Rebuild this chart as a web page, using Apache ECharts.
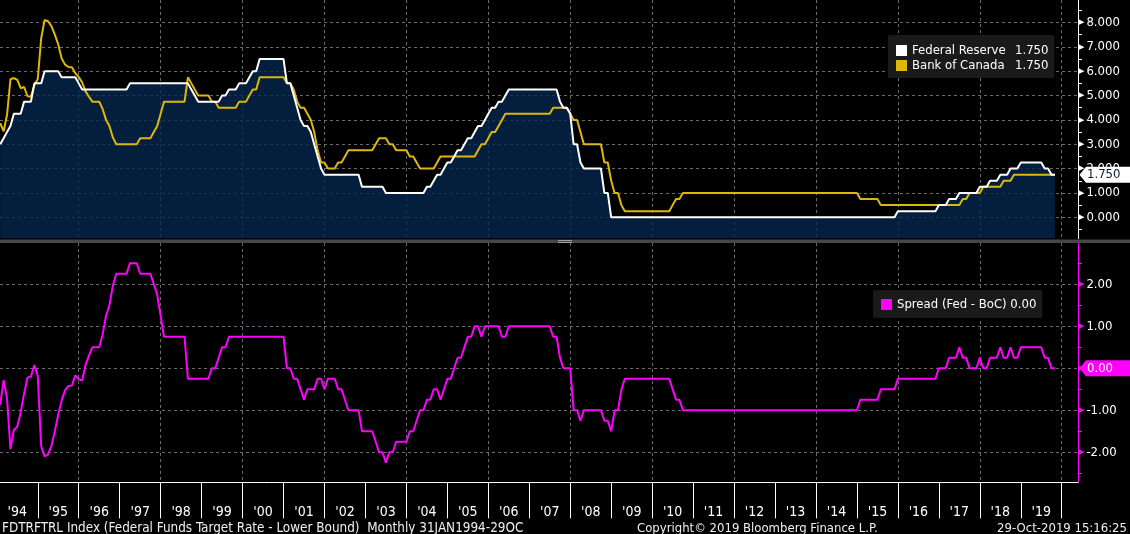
<!DOCTYPE html>
<html>
<head>
<meta charset="utf-8">
<script src="https://cdn.jsdelivr.net/npm/echarts@6/dist/echarts.min.js"></script>
<style>
html,body{margin:0;padding:0;background:#000;}
#c{width:1130px;height:534px;}
</style>
</head>
<body>
<div id="c"></div>
<script>
// ---------------- data (monthly, month-end, Jan 1994 - Oct 2019) ----------------
const startYear = 1994;
const fedFunds = [
  3.00,3.25,3.50,3.75,4.25,4.25,4.25,4.75,4.75,4.75,5.50,5.50, // 1994
  5.50,6.00,6.00,6.00,6.00,6.00,5.75,5.75,5.75,5.75,5.75,5.50, // 1995
  5.25,5.25,5.25,5.25,5.25,5.25,5.25,5.25,5.25,5.25,5.25,5.25, // 1996
  5.25,5.25,5.50,5.50,5.50,5.50,5.50,5.50,5.50,5.50,5.50,5.50, // 1997
  5.50,5.50,5.50,5.50,5.50,5.50,5.50,5.50,5.25,5.00,4.75,4.75, // 1998
  4.75,4.75,4.75,4.75,4.75,5.00,5.00,5.25,5.25,5.25,5.50,5.50, // 1999
  5.50,5.75,6.00,6.00,6.50,6.50,6.50,6.50,6.50,6.50,6.50,6.50, // 2000
  5.50,5.50,5.00,4.50,4.00,3.75,3.75,3.50,3.00,2.50,2.00,1.75, // 2001
  1.75,1.75,1.75,1.75,1.75,1.75,1.75,1.75,1.75,1.75,1.25,1.25, // 2002
  1.25,1.25,1.25,1.25,1.25,1.00,1.00,1.00,1.00,1.00,1.00,1.00, // 2003
  1.00,1.00,1.00,1.00,1.00,1.25,1.25,1.50,1.75,1.75,2.00,2.25, // 2004
  2.25,2.50,2.75,2.75,3.00,3.25,3.25,3.50,3.75,3.75,4.00,4.25, // 2005
  4.50,4.50,4.75,4.75,5.00,5.25,5.25,5.25,5.25,5.25,5.25,5.25, // 2006
  5.25,5.25,5.25,5.25,5.25,5.25,5.25,5.25,4.75,4.50,4.50,4.25, // 2007
  3.00,3.00,2.25,2.00,2.00,2.00,2.00,2.00,2.00,1.00,1.00,0.00, // 2008
  0,0,0,0,0,0,0,0,0,0,0,0, // 2009
  0,0,0,0,0,0,0,0,0,0,0,0, // 2010
  0,0,0,0,0,0,0,0,0,0,0,0, // 2011
  0,0,0,0,0,0,0,0,0,0,0,0, // 2012
  0,0,0,0,0,0,0,0,0,0,0,0, // 2013
  0,0,0,0,0,0,0,0,0,0,0,0, // 2014
  0,0,0,0,0,0,0,0,0,0,0,0.25, // 2015
  0.25,0.25,0.25,0.25,0.25,0.25,0.25,0.25,0.25,0.25,0.25,0.50, // 2016
  0.50,0.50,0.75,0.75,0.75,1.00,1.00,1.00,1.00,1.00,1.00,1.25, // 2017
  1.25,1.25,1.50,1.50,1.50,1.75,1.75,1.75,2.00,2.00,2.00,2.25, // 2018
  2.25,2.25,2.25,2.25,2.25,2.25,2.00,2.00,1.75,1.75            // 2019
];
const bocRate = [
  3.87,3.53,4.21,5.67,5.72,5.64,5.30,5.35,4.97,4.95,5.42,5.68, // 1994
  7.35,8.10,8.05,7.85,7.50,7.10,6.52,6.27,6.17,6.16,5.92,5.76, // 1995
  5.54,5.17,4.95,4.75,4.75,4.75,4.45,4.00,3.75,3.28,3.00,3.00, // 1996
  3.00,3.00,3.00,3.00,3.00,3.25,3.25,3.25,3.25,3.50,3.75,4.25, // 1997
  4.75,4.75,4.75,4.75,4.75,4.75,4.75,5.75,5.50,5.25,5.00,5.00, // 1998
  5.00,5.00,4.75,4.75,4.50,4.50,4.50,4.50,4.50,4.50,4.75,4.75, // 1999
  4.75,5.00,5.25,5.25,5.75,5.75,5.75,5.75,5.75,5.75,5.75,5.75, // 2000
  5.50,5.50,5.25,4.75,4.50,4.50,4.25,4.00,3.50,2.75,2.25,2.25, // 2001
  2.00,2.00,2.00,2.25,2.25,2.50,2.75,2.75,2.75,2.75,2.75,2.75, // 2002
  2.75,2.75,3.00,3.25,3.25,3.25,3.00,3.00,2.75,2.75,2.75,2.75, // 2003
  2.50,2.50,2.25,2.00,2.00,2.00,2.00,2.00,2.25,2.50,2.50,2.50, // 2004
  2.50,2.50,2.50,2.50,2.50,2.50,2.50,2.50,2.75,3.00,3.00,3.25, // 2005
  3.50,3.50,3.75,4.00,4.25,4.25,4.25,4.25,4.25,4.25,4.25,4.25, // 2006
  4.25,4.25,4.25,4.25,4.25,4.25,4.50,4.50,4.50,4.50,4.50,4.25, // 2007
  4.00,4.00,3.50,3.00,3.00,3.00,3.00,3.00,3.00,2.25,2.25,1.50, // 2008
  1.00,1.00,0.50,0.25,0.25,0.25,0.25,0.25,0.25,0.25,0.25,0.25, // 2009
  0.25,0.25,0.25,0.25,0.25,0.50,0.75,0.75,1.00,1.00,1.00,1.00, // 2010
  1,1,1,1,1,1,1,1,1,1,1,1, // 2011
  1,1,1,1,1,1,1,1,1,1,1,1, // 2012
  1,1,1,1,1,1,1,1,1,1,1,1, // 2013
  1,1,1,1,1,1,1,1,1,1,1,1, // 2014
  0.75,0.75,0.75,0.75,0.75,0.75,0.50,0.50,0.50,0.50,0.50,0.50, // 2015
  0.50,0.50,0.50,0.50,0.50,0.50,0.50,0.50,0.50,0.50,0.50,0.50, // 2016
  0.50,0.50,0.50,0.50,0.50,0.50,0.75,0.75,1.00,1.00,1.00,1.00, // 2017
  1.25,1.25,1.25,1.25,1.25,1.25,1.50,1.50,1.50,1.75,1.75,1.75, // 2018
  1.75,1.75,1.75,1.75,1.75,1.75,1.75,1.75,1.75,1.75            // 2019
];
const spread = [
  -0.87,-0.28,-0.71,-1.92,-1.47,-1.39,-1.05,-0.60,-0.22,-0.20,0.08,-0.18, // 1994
  -1.85,-2.10,-2.05,-1.85,-1.50,-1.10,-0.77,-0.52,-0.42,-0.41,-0.17,-0.26, // 1995
  -0.29,0.08,0.30,0.50,0.50,0.50,0.80,1.25,1.50,1.97,2.25,2.25, // 1996
  2.25,2.25,2.50,2.50,2.50,2.25,2.25,2.25,2.25,2.00,1.75,1.25, // 1997
  0.75,0.75,0.75,0.75,0.75,0.75,0.75,-0.25,-0.25,-0.25,-0.25,-0.25, // 1998
  -0.25,-0.25,0.00,0.00,0.25,0.50,0.50,0.75,0.75,0.75,0.75,0.75, // 1999
  0.75,0.75,0.75,0.75,0.75,0.75,0.75,0.75,0.75,0.75,0.75,0.75, // 2000
  0.00,0.00,-0.25,-0.25,-0.50,-0.75,-0.50,-0.50,-0.50,-0.25,-0.25,-0.50, // 2001
  -0.25,-0.25,-0.25,-0.50,-0.50,-0.75,-1.00,-1.00,-1.00,-1.00,-1.50,-1.50, // 2002
  -1.50,-1.50,-1.75,-2.00,-2.00,-2.25,-2.00,-2.00,-1.75,-1.75,-1.75,-1.75, // 2003
  -1.50,-1.50,-1.25,-1.00,-1.00,-0.75,-0.75,-0.50,-0.50,-0.75,-0.50,-0.25, // 2004
  -0.25,0.00,0.25,0.25,0.50,0.75,0.75,1.00,1.00,0.75,1.00,1.00, // 2005
  1.00,1.00,1.00,0.75,0.75,1.00,1.00,1.00,1.00,1.00,1.00,1.00, // 2006
  1.00,1.00,1.00,1.00,1.00,1.00,0.75,0.75,0.25,0.00,0.00,0.00, // 2007
  -1.00,-1.00,-1.25,-1.00,-1.00,-1.00,-1.00,-1.00,-1.00,-1.25,-1.25,-1.50, // 2008
  -1.00,-1.00,-0.50,-0.25,-0.25,-0.25,-0.25,-0.25,-0.25,-0.25,-0.25,-0.25, // 2009
  -0.25,-0.25,-0.25,-0.25,-0.25,-0.50,-0.75,-0.75,-1.00,-1.00,-1.00,-1.00, // 2010
  -1,-1,-1,-1,-1,-1,-1,-1,-1,-1,-1,-1, // 2011
  -1,-1,-1,-1,-1,-1,-1,-1,-1,-1,-1,-1, // 2012
  -1,-1,-1,-1,-1,-1,-1,-1,-1,-1,-1,-1, // 2013
  -1,-1,-1,-1,-1,-1,-1,-1,-1,-1,-1,-1, // 2014
  -0.75,-0.75,-0.75,-0.75,-0.75,-0.75,-0.50,-0.50,-0.50,-0.50,-0.50,-0.25, // 2015
  -0.25,-0.25,-0.25,-0.25,-0.25,-0.25,-0.25,-0.25,-0.25,-0.25,-0.25,0.00, // 2016
  0.00,0.00,0.25,0.25,0.25,0.50,0.25,0.25,0.00,0.00,0.00,0.25, // 2017
  0.00,0.00,0.25,0.25,0.25,0.50,0.25,0.25,0.50,0.25,0.25,0.50, // 2018
  0.50,0.50,0.50,0.50,0.50,0.50,0.25,0.25,0.00,0.00             // 2019
];
// axis ticks / labels
const topTicks = [0,1,2,3,4,5,6,7,8];
const topMinorTicks = [-0.5,0.5,1.5,2.5,3.5,4.5,5.5,6.5,7.5,8.5];
const bottomTicks = [-2,-1,0,1,2];
const bottomMinorTicks = [-2.5,-1.5,-0.5,0.5,1.5,2.5];
const yearTicks = [1995,1996,1997,1998,1999,2000,2001,2002,2003,2004,2005,2006,2007,2008,2009,2010,2011,2012,2013,2014,2015,2016,2017,2018,2019,2020];
const yearLabels = [1994.5,1995.5,1996.5,1997.5,1998.5,1999.5,2000.5,2001.5,2002.5,2003.5,2004.5,2005.5,2006.5,2007.5,2008.5,2009.5,2010.5,2011.5,2012.5,2013.5,2014.5,2015.5,2016.5,2017.5,2018.5,2019.5];
const gridYears = [1996,1998,2000,2002,2004,2006,2008,2010,2012,2014,2016,2018,2020];
const footerLeft = 'FDTRFTRL Index (Federal Funds Target Rate - Lower Bound)  Monthly 31JAN1994-29OC';
const footerMid = 'Copyright\u00A9 2019 Bloomberg Finance L.P.';
const footerRight = '29-Oct-2019 15:16:25';

// ---------------- chart ----------------
const FONT = '"DejaVu Sans Condensed", "DejaVu Sans", sans-serif';
const WHITE = '#ffffff', GOLD = '#dfb70a', MAG = '#ff00ff', NAVY = '#05264f';
const GRIDC = '#6a6a6a';
const monthX = fedFunds.map((_, i) => startYear + (i + 1) / 12);
const pairs = arr => arr.map((v, i) => [monthX[i], v]);
const last = a => a[a.length - 1];

const X_MIN = 1994.078, X_MAX = 2020.397;
const dash = { type: [3, 3], color: GRIDC, width: 1 };

const chart = echarts.init(document.getElementById('c'), null, { renderer: 'canvas' });

const legendVals = {
  'Federal Reserve': last(fedFunds).toFixed(3),
  'Bank of Canada': last(bocRate).toFixed(3),
  'Spread (Fed - BoC)': last(spread).toFixed(2)
};

chart.setOption({
  backgroundColor: '#000',
  animation: false,
  textStyle: { fontFamily: FONT },
  grid: [
    { left: 0, right: 52, top: 0, height: 238.5 },
    { left: 0, right: 52, top: 243, height: 239.3 }
  ],
  xAxis: [
    { gridIndex: 0, type: 'value', min: X_MIN, max: X_MAX, position: 'bottom',
      axisLine: { show: false, onZero: false }, axisTick: { show: false, customValues: gridYears },
      axisLabel: { show: false }, splitLine: { show: true, lineStyle: dash } },
    { gridIndex: 1, type: 'value', min: X_MIN, max: X_MAX, position: 'bottom',
      axisLine: { show: true, onZero: false, lineStyle: { color: WHITE, width: 1 } },
      axisTick: { show: true, customValues: yearTicks, length: 36, lineStyle: { color: WHITE, width: 1 } },
      axisLabel: { show: true, customValues: yearLabels, margin: 23, color: WHITE, fontSize: 14, fontFamily: FONT,
        formatter: v => "'" + String(Math.floor(v)).slice(2) },
      splitLine: { show: false } },
    { gridIndex: 1, type: 'value', min: X_MIN, max: X_MAX, position: 'bottom',
      axisLine: { show: false, onZero: false }, axisTick: { show: false, customValues: gridYears },
      axisLabel: { show: false }, splitLine: { show: true, lineStyle: dash } }
  ],
  yAxis: [
    { gridIndex: 0, type: 'value', position: 'right', min: -0.871, max: 8.924,
      axisLine: { show: true, lineStyle: { color: WHITE, width: 1 } },
      axisTick: { show: true, customValues: topTicks, length: 2, lineStyle: { color: WHITE } },
      axisLabel: { show: true, customValues: topTicks, margin: 1, color: WHITE, fontSize: 13, fontFamily: FONT,
        formatter: v => '{t|\u25B6}' + v.toFixed(3),
        rich: { t: { fontSize: 7, color: WHITE, padding: [0, 2, 0, 0], fontFamily: 'DejaVu Sans' } } },
      splitLine: { show: true, lineStyle: dash } },
    { gridIndex: 0, type: 'value', position: 'right', min: -0.871, max: 8.924,
      axisLine: { show: false },
      axisTick: { show: true, customValues: topMinorTicks, length: 4, lineStyle: { color: WHITE } },
      axisLabel: { show: false }, splitLine: { show: false } },
    { gridIndex: 1, type: 'value', position: 'right', min: -2.714, max: 2.983,
      axisLine: { show: true, lineStyle: { color: MAG, width: 1 } },
      axisTick: { show: true, customValues: bottomTicks, length: 2, lineStyle: { color: MAG } },
      axisLabel: { show: true, customValues: bottomTicks, margin: 1, color: WHITE, fontSize: 13, fontFamily: FONT,
        formatter: v => '{t|\u25B6}' + v.toFixed(2),
        rich: { t: { fontSize: 7, color: MAG, padding: [0, 2, 0, 0], fontFamily: 'DejaVu Sans' } } },
      splitLine: { show: true, lineStyle: dash } },
    { gridIndex: 1, type: 'value', position: 'right', min: -2.714, max: 2.983,
      axisLine: { show: false },
      axisTick: { show: true, customValues: bottomMinorTicks, length: 4, lineStyle: { color: MAG } },
      axisLabel: { show: false }, splitLine: { show: false } }
  ],
  legend: [
    { data: ['Federal Reserve', 'Bank of Canada'], orient: 'vertical', left: 888, top: 35,
      padding: [9, 6, 6, 8], backgroundColor: '#1a1a1a', borderRadius: 2,
      itemWidth: 11, itemHeight: 11, itemGap: 2, icon: 'rect', selectedMode: false,
      itemStyle: { borderWidth: 0 },
      textStyle: { color: WHITE, fontFamily: FONT, fontSize: 13,
        rich: { n: { width: 103, color: WHITE, fontSize: 13, fontFamily: FONT, lineHeight: 15 },
                v: { color: WHITE, fontSize: 13, fontFamily: FONT, lineHeight: 15 } } },
      formatter: name => '{n|' + name + '}{v|' + legendVals[name] + '}' },
    { data: ['Spread (Fed - BoC)'], orient: 'vertical', left: 873, top: 290,
      padding: [8, 6, 7, 8], backgroundColor: '#1a1a1a', borderRadius: 2,
      itemWidth: 11, itemHeight: 11, icon: 'rect', selectedMode: false,
      itemStyle: { borderWidth: 0 },
      textStyle: { color: WHITE, fontFamily: FONT, fontSize: 13 },
      formatter: name => name + ' ' + legendVals[name] }
  ],
  series: [
    { name: 'fedArea', type: 'line', xAxisIndex: 0, yAxisIndex: 0, data: pairs(fedFunds),
      showSymbol: false, silent: true, z: 1, lineStyle: { width: 0, opacity: 0 },
      areaStyle: { color: NAVY, opacity: 0.78, origin: 'start' } },
    { name: 'Bank of Canada', type: 'line', xAxisIndex: 0, yAxisIndex: 0, data: pairs(bocRate),
      showSymbol: false, z: 3, itemStyle: { color: GOLD }, lineStyle: { color: GOLD, width: 2 } },
    { name: 'Federal Reserve', type: 'line', xAxisIndex: 0, yAxisIndex: 0, data: pairs(fedFunds),
      showSymbol: false, z: 4, itemStyle: { color: WHITE }, lineStyle: { color: WHITE, width: 2 } },
    { name: 'Spread (Fed - BoC)', type: 'line', xAxisIndex: 1, yAxisIndex: 2, data: pairs(spread),
      showSymbol: false, z: 3, itemStyle: { color: MAG }, lineStyle: { color: MAG, width: 2 } }
  ]
});

// pointer labels on right axes + separator + footer
const yFed = chart.convertToPixel({ yAxisIndex: 0 }, last(fedFunds));
const ySpr = chart.convertToPixel({ yAxisIndex: 2 }, last(spread));
const axisX = chart.convertToPixel({ xAxisIndex: 1 }, X_MAX);
const W = 1130;
function pointer(y, fill, txt, txtColor) {
  return [
    { type: 'polygon', z: 100, shape: { points: [[axisX + 1.5, y], [axisX + 8, y - 8], [W, y - 8], [W, y + 8], [axisX + 8, y + 8]] },
      style: { fill: fill } },
    { type: 'text', z: 101, x: axisX + 9, y: y, style: { text: txt, fill: txtColor, font: '13px ' + FONT, textVerticalAlign: 'middle' } }
  ];
}
chart.setOption({
  graphic: [
    { type: 'rect', z: 90, shape: { x: 0, y: 239.5, width: W, height: 3.6 }, style: { fill: '#474747' } },
    { type: 'line', z: 91, shape: { x1: 558, y1: 240.5, x2: 572, y2: 240.5 }, style: { stroke: '#a0a0a0', lineWidth: 1 } },
    { type: 'line', z: 91, shape: { x1: 558, y1: 242.5, x2: 572, y2: 242.5 }, style: { stroke: '#a0a0a0', lineWidth: 1 } },
    ...pointer(yFed, '#ffffff', last(fedFunds).toFixed(3), '#0b1a2e'),
    ...pointer(ySpr, MAG, last(spread).toFixed(2), '#ffffff'),
    { type: 'text', z: 100, x: 2, y: 529, style: { text: footerLeft, fill: '#f0f0f0', font: '13.4px ' + FONT, textVerticalAlign: 'middle' } },
    { type: 'text', z: 100, x: 637, y: 529, style: { text: footerMid, fill: '#f0f0f0', font: '13px ' + FONT, textVerticalAlign: 'middle' } },
    { type: 'text', z: 100, x: 1127, y: 529, style: { text: footerRight, fill: '#f0f0f0', font: '13px ' + FONT, textAlign: 'right', textVerticalAlign: 'middle' } }
  ]
});
</script>
</body>
</html>
